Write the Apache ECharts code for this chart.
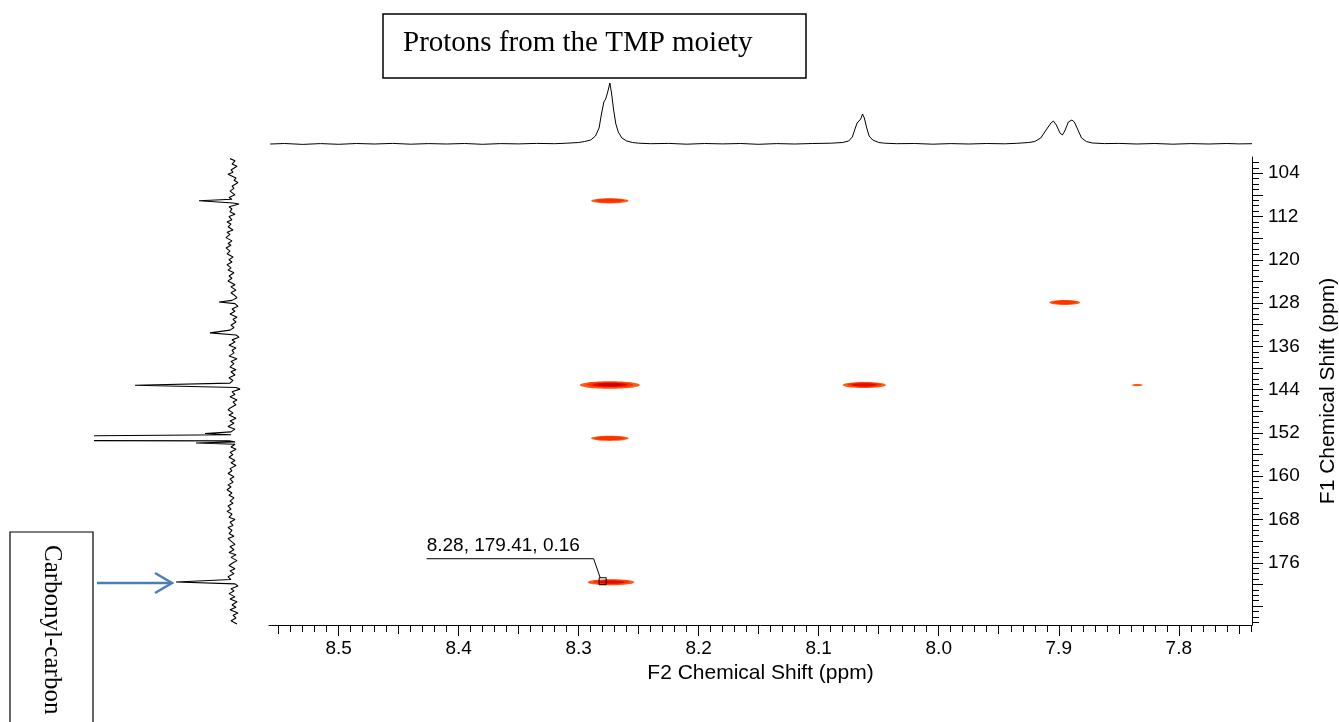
<!DOCTYPE html>
<html><head><meta charset="utf-8">
<script src="https://cdn.jsdelivr.net/npm/echarts@6/dist/echarts.min.js"></script>
<style>html,body{margin:0;padding:0;background:#fff;overflow:hidden}#chart{width:1339px;height:722px}</style>
</head><body><div id="chart"></div>
<script>
// ---- axis ticks / labels ----
const f2TickLabels = [8.5, 8.4, 8.3, 8.2, 8.1, 8.0, 7.9, 7.8];
const f2MidTicks = [8.55, 8.45, 8.35, 8.25, 8.15, 8.05, 7.95, 7.85, 7.75];
const f1TickLabels = [104, 112, 120, 128, 136, 144, 152, 160, 168, 176];
const f1MajorTicks = [104, 108, 112, 116, 120, 124, 128, 132, 136, 140, 144, 148, 152, 156, 160, 164, 168, 172, 176, 180, 184];
const f2Range = [7.739, 8.558];
const f1Range = [101.0, 187.5];

// ---- cross peaks ----
const peakF2 = [8.274, 8.274, 8.062, 7.895, 7.8346, 8.274, 8.273];
const peakF1 = [109.1, 143.15, 143.15, 127.9, 143.15, 153.0, 179.6];
const peakHalfWidthF2 = [0.0156, 0.025, 0.018, 0.0128, 0.0046, 0.0157, 0.0195];
const peakHalfWidthF1 = [0.48, 0.7, 0.56, 0.46, 0.2, 0.48, 0.55];
const peakLevel = [2, 4, 3, 2, 1, 2, 3];

// ---- annotation cursor ----
const cursorF2 = [8.28];
const cursorF1 = [179.41];
const cursorValue = [0.16];

// ---- top (F2) projection: [ppm, intensity] ----
const topSpectrum = [
 [8.557,0],[8.545,0.5],[8.53,-0.4],[8.515,0.4],[8.50,-0.3],[8.485,0.5],[8.47,0],[8.455,0.6],[8.44,-0.2],[8.425,0.4],
 [8.41,0],[8.395,0.5],[8.38,-0.3],[8.365,0.4],[8.35,0.1],[8.335,0.6],[8.32,0.3],[8.31,0.8],[8.30,1.5],[8.295,2.5],
 [8.29,4],[8.286,8],[8.283,16],[8.281,30],[8.279,42],[8.2775,45],[8.2758,52],[8.274,61],[8.2725,50],[8.271,35],
 [8.269,20],[8.267,12],[8.264,6],[8.26,3],[8.255,1.5],[8.25,0.8],[8.24,0.3],[8.225,0.6],[8.21,-0.2],[8.195,0.5],
 [8.18,0.1],[8.165,0.5],[8.15,-0.3],[8.135,0.4],[8.12,0],[8.105,0.5],[8.09,0.8],[8.08,1.5],[8.075,3],[8.072,7],
 [8.0695,16],[8.068,21],[8.0665,22],[8.065,25],[8.0635,30],[8.062,26],[8.06,16],[8.058,8],[8.055,4],[8.05,1.5],
 [8.045,0.8],[8.035,0.3],[8.02,0.5],[8.005,-0.2],[7.99,0.4],[7.975,0],[7.96,0.5],[7.945,0.2],[7.935,0.7],[7.925,1.5],
 [7.92,2.5],[7.915,6],[7.91,15],[7.9065,21],[7.9045,23],[7.902,19],[7.899,11],[7.897,9],[7.895,13],[7.892,22],
 [7.889,24],[7.887,22],[7.884,14],[7.881,6],[7.877,2.5],[7.872,1],[7.862,0.4],[7.85,0.6],[7.835,0],[7.82,0.5],
 [7.805,-0.2],[7.79,0.4],[7.775,0],[7.76,0.5],[7.75,0.1],[7.739,0.3]
];

// ---- left (F1) projection: [ppm, intensity] ----
const leftSpectrum = [
 [101.3,3],[101.7,-2],[102.3,1],[102.7,-4],[103.4,2],[103.8,0],[104.2,5],[104.9,-3],[105.3,-1],[105.7,-5],
 [106.4,1],[106.8,-1],[107.3,3],[108.0,-2],[108.5,4],[108.8,1],[109.1,34],[109.5,0],[109.7,-6],[110.2,4],
 [110.6,1],[111.1,3],[111.6,-2],[112.0,4],[112.6,1],[113.0,6],[113.4,2],[113.9,5],[114.5,0],[114.9,6],
 [115.3,3],[115.9,7],[116.5,1],[117.0,5],[117.3,2],[117.8,7],[118.4,3],[118.9,6],[119.5,0],[120.0,4],
 [120.4,1],[120.9,6],[121.5,2],[121.9,5],[122.4,-1],[123.0,4],[123.4,1],[123.9,5],[124.6,-2],[125.0,2],
 [125.6,-3],[126.1,2],[126.5,-1],[127.0,-4],[127.5,1],[127.8,14],[128.1,-2],[128.6,-5],[129.1,1],[129.5,-2],
 [130.0,3],[130.6,-4],[131.0,0],[131.5,-3],[132.1,2],[132.5,-1],[133.0,3],[133.5,23],[133.9,-3],[134.3,-6],
 [134.8,1],[135.2,-2],[135.8,4],[136.3,-3],[136.7,1],[137.2,-1],[137.8,4],[138.3,-4],[138.8,2],[139.2,-1],
 [139.8,3],[140.3,-3],[140.7,2],[141.3,-2],[141.8,4],[142.3,0],[142.8,3],[143.2,98],[143.6,-3],[143.9,-7],
 [144.4,1],[144.9,-2],[145.3,3],[145.9,-4],[146.3,0],[146.8,-3],[147.3,2],[147.7,5],[148.3,0],[148.7,4],
 [149.3,-3],[149.8,3],[150.2,-1],[150.8,5],[151.3,-2],[151.8,2],[152.1,28],[152.35,2],[152.58,175],[153.4,175],
 [153.47,4],[153.65,-2],[153.85,37],[154.1,-2],[154.6,2],[155.0,-3],[155.6,3],[156.0,0],[156.5,4],[157.1,-2],
 [157.5,2],[158.0,-3],[158.6,3],[159.0,1],[159.5,5],[160.1,-1],[160.5,3],[161.1,0],[161.6,5],[162.0,2],
 [162.5,6],[163.1,1],[163.5,4],[164.0,-1],[164.6,3],[165.0,0],[165.5,5],[166.1,2],[166.5,6],[167.0,1],
 [167.6,4],[168.0,-2],[168.5,3],[169.1,0],[169.5,5],[170.0,1],[170.6,4],[171.1,-1],[171.5,5],[172.0,2],
 [172.6,-2],[173.0,3],[173.6,-1],[174.1,4],[174.5,-3],[175.0,2],[175.6,-4],[176.0,0],[176.5,4],[177.1,-2],
 [177.5,3],[178.0,-1],[178.6,5],[179.1,2],[179.55,57],[179.9,-2],[180.3,-5],[180.8,2],[181.2,-1],[181.7,4],
 [182.3,-2],[182.7,3],[183.2,-4],[183.8,1],[184.2,-3],[184.7,3],[185.3,-5],[185.7,0],[186.2,-3],[186.7,2],
 [187.3,-4]
];

// minor tick positions
const f2MinorTicks = [];
for (let i = 774; i <= 855; i++) f2MinorTicks.push(i / 100);
const f1MinorTicks = [];
for (let i = 102; i <= 187; i++) f1MinorTicks.push(i);

const SANS = "'Liberation Sans', Arial, sans-serif";
const SERIF = "'Liberation Serif', 'Times New Roman', serif";

const chart = echarts.init(document.getElementById('chart'), null, {renderer: 'canvas', width: 1339, height: 722});

function tickAxisX(ticks, len, extra) {
  return Object.assign({
    gridIndex: 0, type: 'value', min: f2Range[0], max: f2Range[1], inverse: true,
    position: 'bottom', offset: 0,
    axisLine: {show: false}, splitLine: {show: false},
    axisTick: {show: true, customValues: ticks, length: len, lineStyle: {color: '#000', width: 1}},
    axisLabel: {show: false}
  }, extra || {});
}
function tickAxisY(ticks, len, extra) {
  return Object.assign({
    gridIndex: 0, type: 'value', min: f1Range[0], max: f1Range[1], inverse: true,
    position: 'right', offset: 0,
    axisLine: {show: false}, splitLine: {show: false},
    axisTick: {show: true, customValues: ticks, length: len, lineStyle: {color: '#000', width: 1}},
    axisLabel: {show: false}
  }, extra || {});
}

const peakColors = ['#ff5a10', '#ff3000', '#e80800', '#cc0000'];
const peakScales = [1, 0.78, 0.58, 0.4];

const option = {
  animation: false,
  backgroundColor: '#fff',
  grid: [
    {left: 269, top: 157, width: 983, height: 468, containLabel: false, outerBoundsMode: 'none'},
    {left: 269, top: 78, width: 983, height: 70, containLabel: false, outerBoundsMode: 'none'},
    {left: 95, top: 157, width: 146, height: 468, containLabel: false, outerBoundsMode: 'none'}
  ],
  xAxis: [
    tickAxisX(f2TickLabels, 11, {
      axisLine: {show: true, lineStyle: {color: '#000', width: 1}},
      axisLabel: {show: true, customValues: f2TickLabels, formatter: v => Number(v).toFixed(1),
        margin: 14, color: '#000', fontSize: 19, fontFamily: SANS},
      name: 'F2 Chemical Shift (ppm)', nameLocation: 'middle', nameGap: 35,
      nameTextStyle: {color: '#000', fontSize: 21, fontFamily: SANS}
    }),
    tickAxisX(f2MidTicks, 9),
    tickAxisX(f2MinorTicks, 7),
    {gridIndex: 1, type: 'value', min: f2Range[0], max: f2Range[1], inverse: true, show: false},
    {gridIndex: 2, type: 'value', min: -8, max: 138, inverse: true, show: false}
  ],
  yAxis: [
    tickAxisY(f1MajorTicks, 11, {
      axisLine: {show: true, lineStyle: {color: '#000', width: 1}},
      axisLabel: {show: true, customValues: f1TickLabels, formatter: v => String(v),
        margin: 16, color: '#000', fontSize: 19, fontFamily: SANS},
      name: 'F1 Chemical Shift (ppm)', nameLocation: 'middle', nameRotate: 90, nameGap: 66,
      nameTextStyle: {color: '#000', fontSize: 21, fontFamily: SANS}
    }),
    tickAxisY(f1MinorTicks, 7),
    {gridIndex: 1, type: 'value', min: -4, max: 66, show: false},
    {gridIndex: 2, type: 'value', min: f1Range[0], max: f1Range[1], inverse: true, show: false}
  ],
  series: [
    {
      type: 'line', xAxisIndex: 3, yAxisIndex: 2, data: topSpectrum,
      showSymbol: false, symbol: 'none', clip: true,
      lineStyle: {color: '#000', width: 1}
    },
    {
      type: 'line', xAxisIndex: 4, yAxisIndex: 3,
      data: leftSpectrum.map(p => [p[1], p[0]]),
      showSymbol: false, symbol: 'none', clip: true,
      lineStyle: {color: '#000', width: 1.1}
    },
    {
      type: 'custom', xAxisIndex: 0, yAxisIndex: 0, clip: true,
      data: peakF2.map((x, i) => [x, peakF1[i], peakHalfWidthF2[i], peakHalfWidthF1[i], peakLevel[i]]),
      renderItem: function (params, api) {
        const x = api.value(0), y = api.value(1), hx = api.value(2), hy = api.value(3), lv = api.value(4);
        const c = api.coord([x, y]);
        const rx = Math.abs(api.coord([x + hx, y])[0] - c[0]);
        const ry = Math.abs(api.coord([x, y + hy])[1] - c[1]);
        const children = [];
        for (let i = 0; i < lv; i++) {
          children.push({type: 'ellipse',
            shape: {cx: c[0], cy: c[1] - (i ? ry * 0.08 : 0), rx: rx * peakScales[i], ry: ry * (i ? peakScales[i] * 0.95 : 1)},
            style: {fill: peakColors[i]}});
        }
        return {type: 'group', children: children};
      }
    },
    {
      type: 'custom', xAxisIndex: 0, yAxisIndex: 0, clip: false, z: 10,
      data: cursorF2.map((x, i) => [x, cursorF1[i], cursorValue[i]]),
      renderItem: function (params, api) {
        const c = api.coord([api.value(0), api.value(1)]);
        const label = api.value(0).toFixed(2) + ', ' + api.value(1).toFixed(2) + ', ' + api.value(2).toFixed(2);
        return {type: 'group', children: [
          {type: 'rect', shape: {x: c[0] - 3.5, y: c[1] - 3.5, width: 7, height: 7},
            style: {fill: 'none', stroke: '#000', lineWidth: 1}},
          {type: 'polyline', shape: {points: [[c[0] - 2.5, c[1] - 3.5], [c[0] - 9, c[1] - 22.5], [c[0] - 176, c[1] - 22.5]]},
            style: {fill: 'none', stroke: '#000', lineWidth: 1}},
          {type: 'text', x: c[0] - 176, y: c[1] - 26,
            style: {text: label, fill: '#000', font: '19px ' + SANS, textAlign: 'left', textVerticalAlign: 'bottom'}}
        ]};
      }
    }
  ],
  graphic: [
    {type: 'rect', shape: {x: 383, y: 14, width: 423, height: 64},
      style: {fill: '#fff', stroke: '#000', lineWidth: 1.5}, z: 5},
    {type: 'text', x: 403, y: 43, z: 6,
      style: {text: 'Protons from the TMP moiety', fill: '#000', font: '29px ' + SERIF, textAlign: 'left', textVerticalAlign: 'middle'}},
    {type: 'rect', shape: {x: 10, y: 532, width: 83, height: 220},
      style: {fill: '#fff', stroke: '#000', lineWidth: 1.2}, z: 5},
    {type: 'text', x: 52, y: 545, rotation: -Math.PI / 2, z: 6,
      style: {text: 'Carbonyl-carbon', fill: '#000', font: '25px ' + SERIF, textAlign: 'left', textVerticalAlign: 'middle'}},
    {type: 'line', shape: {x1: 97, y1: 583, x2: 171, y2: 583},
      style: {stroke: '#4a7ebb', lineWidth: 2.5}, z: 6},
    {type: 'polyline', shape: {points: [[155, 573], [172, 583], [155, 593]]},
      style: {fill: 'none', stroke: '#4a7ebb', lineWidth: 2.5}, z: 6}
  ]
};
chart.setOption(option);
</script>
</body></html>
